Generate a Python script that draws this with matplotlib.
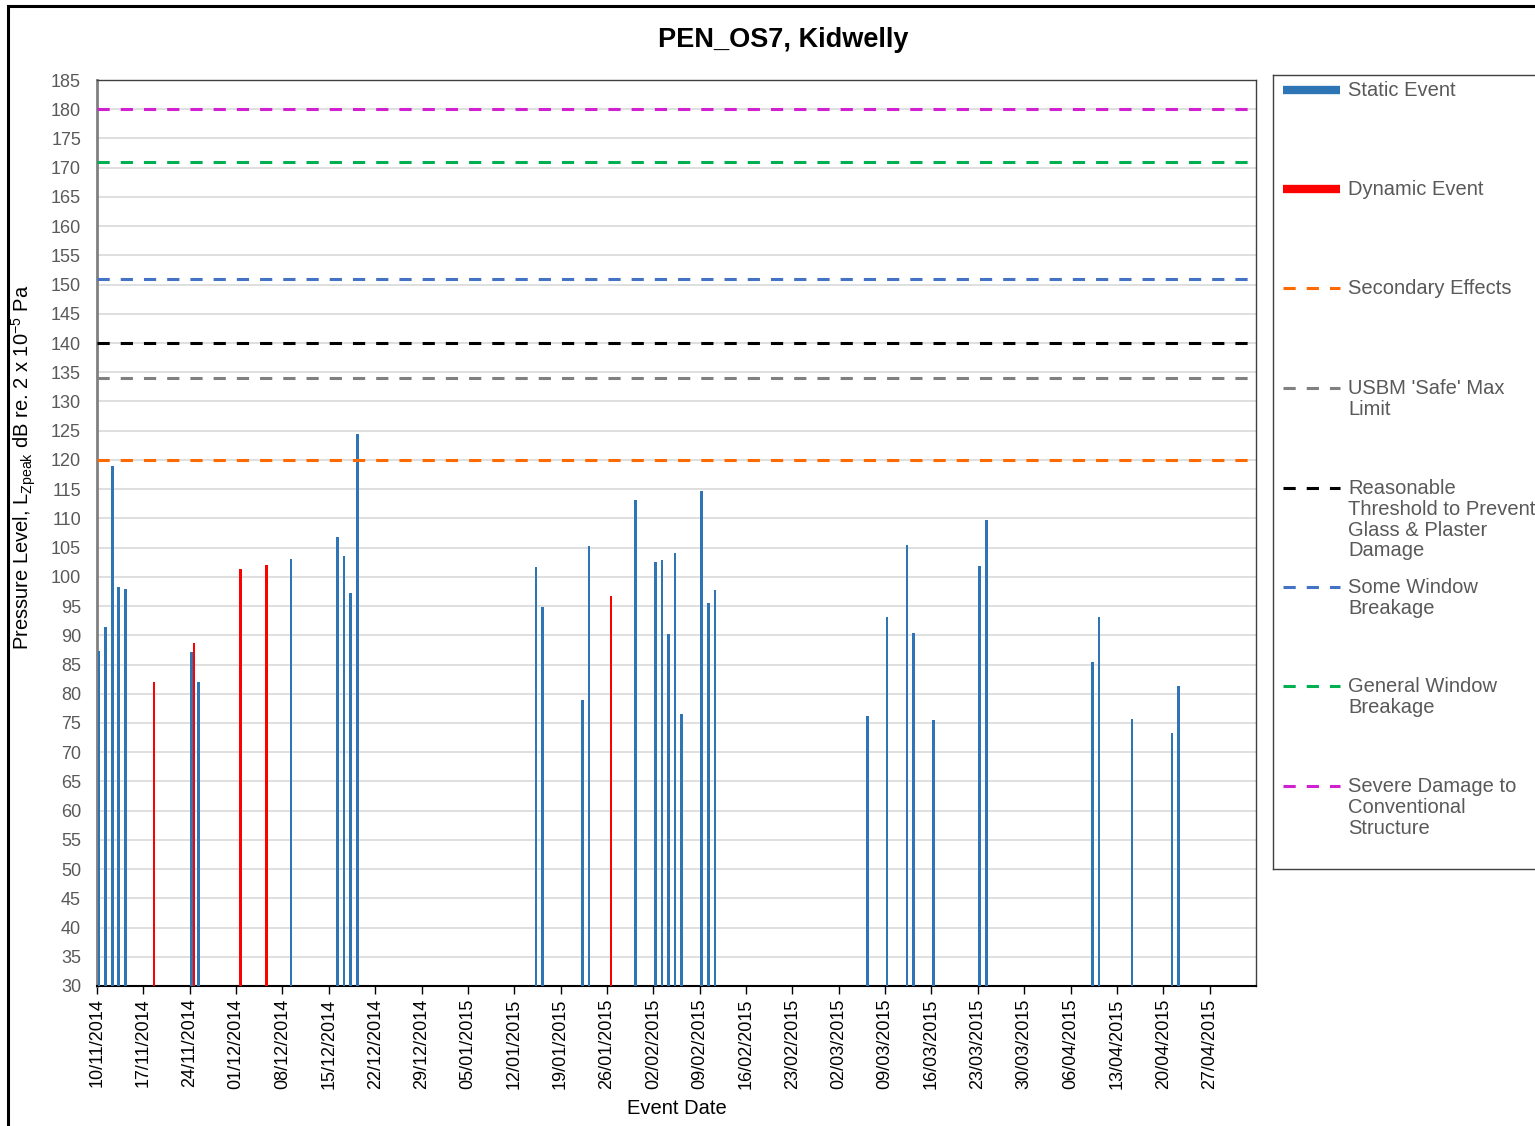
import matplotlib
matplotlib.use("Agg")
import matplotlib.pyplot as plt
import matplotlib.patches as patches
import matplotlib.dates as mdates
import numpy as np
import datetime as dt

plt.rcParams['font.family'] = ['Liberation Sans', 'DejaVu Sans']

# event data
static_dates = ["10/11/2014", "11/11/2014", "12/11/2014", "13/11/2014", "14/11/2014",
                "24/11/2014", "25/11/2014", "09/12/2014", "16/12/2014", "17/12/2014",
                "18/12/2014", "19/12/2014", "15/01/2015", "16/01/2015", "22/01/2015",
                "23/01/2015", "30/01/2015", "02/02/2015", "03/02/2015", "04/02/2015",
                "05/02/2015", "06/02/2015", "09/02/2015", "10/02/2015", "11/02/2015",
                "06/03/2015", "09/03/2015", "12/03/2015", "13/03/2015", "16/03/2015",
                "23/03/2015", "24/03/2015", "09/04/2015", "10/04/2015", "15/04/2015",
                "21/04/2015", "22/04/2015"]
static_levels = [87.3, 91.4, 119.0, 98.3, 98.0,
                 87.1, 82.0, 103.1, 106.8, 103.5,
                 97.2, 124.4, 101.7, 94.8, 78.9,
                 105.2, 113.1, 102.5, 102.9, 90.2,
                 104.0, 76.5, 114.7, 95.5, 97.7,
                 76.2, 93.1, 105.4, 90.4, 75.5,
                 101.8, 109.8, 85.4, 93.1, 75.7,
                 73.2, 81.4]

dynamic_dates = ["18/11/2014", "24/11/2014", "01/12/2014", "05/12/2014", "26/01/2015"]
dynamic_levels = [82.0, 88.6, 101.4, 102.1, 96.7]

# threshold lines
thr_labels = ["Secondary Effects", "USBM 'Safe' Max\nLimit",
              "Reasonable\nThreshold to Prevent\nGlass & Plaster\nDamage",
              "Some Window\nBreakage", "General Window\nBreakage",
              "Severe Damage to\nConventional\nStructure"]
thr_values = [120, 134, 140, 151, 171, 180]
thr_colors = ['#FF6A00', '#808080', '#000000', '#4472C4', '#00B050', '#D020D0']

W, H = 1535, 1126
fig = plt.figure(figsize=(W / 100, H / 100), dpi=100)
ax = fig.add_axes([97 / W, 1 - 986 / H, (1256 - 97) / W, (986 - 80) / H])

def to_dt(s):
    return dt.datetime.strptime(s, "%d/%m/%Y")

sd = [to_dt(s) + dt.timedelta(hours=7) for s in static_dates]
dd = [to_dt(s) + dt.timedelta(hours=15) for s in dynamic_dates]

base = 30
ax.bar(sd, np.array(static_levels) - base, bottom=base, width=0.4,
       color='#2E75B6', zorder=3)
ax.bar(dd, np.array(dynamic_levels) - base, bottom=base, width=0.4,
       color='#FF0000', zorder=3)

dash = (0, (4, 3.6))
for v, c in zip(thr_values, thr_colors):
    ax.axhline(v, color=c, lw=2.2, linestyle=dash, zorder=4)

start = dt.datetime(2014, 11, 10)
ax.set_xlim(start, start + dt.timedelta(days=175))
ax.set_ylim(30, 185)
ax.set_yticks(np.arange(30, 186, 5))
ax.yaxis.grid(True, color='#D9D9D9', lw=1.2, zorder=0)
ax.set_axisbelow(True)

ticks = [start + dt.timedelta(days=7 * i) for i in range(25)]
ax.set_xticks(ticks)
ax.xaxis.set_major_formatter(mdates.DateFormatter('%d/%m/%Y'))
ax.tick_params(axis='x', rotation=90, labelsize=13, length=6, width=1,
               color='black', labelcolor='black', pad=3)
ax.tick_params(axis='y', length=0, labelsize=13, labelcolor='#595959', pad=11.5)

for side in ['top', 'right']:
    ax.spines[side].set_color('#404040')
    ax.spines[side].set_linewidth(1)
ax.spines['left'].set_color('#808080')
ax.spines['left'].set_linewidth(2)
ax.spines['bottom'].set_color('black')
ax.spines['bottom'].set_linewidth(1.5)

ax.set_xlabel('Event Date', fontsize=14.5, va='center')
ax.xaxis.set_label_coords(0.5, (986 - 1108) / 906)
ax.set_ylabel(r'Pressure Level, L$_{\mathregular{Zpeak}}$ dB re. 2 x 10$^{\mathregular{-5}}$ Pa',
              fontsize=14.5, va='center')
ax.yaxis.set_label_coords((24 - 97) / 1159, (986 - 467) / 906)
fig.text(783 / W, 1 - 40 / H, 'PEN_OS7, Kidwelly', fontsize=19.5, fontweight='bold',
         ha='center', va='center')

# outer chart frame
fig.patches.append(patches.Rectangle((8 / W, -0.1), 1.2, 1.1 - 6 / H, transform=fig.transFigure,
                                     fill=False, edgecolor='black', lw=2.2))

# legend drawn in its own pixel-coordinate axes
lax = fig.add_axes([1273 / W, 1 - 869 / H, 300 / W, (869 - 75) / H])
lax.set_xlim(1273, 1573)
lax.set_ylim(869, 75)
lax.set_xticks([])
lax.set_yticks([])
for s in lax.spines.values():
    s.set_color('#404040')
    s.set_linewidth(1)

entries = [("Static Event", '#2E75B6', 'bar'), ("Dynamic Event", '#FF0000', 'bar')]
entries += [(l, c, 'line') for l, c in zip(thr_labels, thr_colors)]
slots = [90, 189, 288, 388, 488, 587, 686, 786]
for (label, color, kind), y in zip(entries, slots):
    if kind == 'bar':
        lax.plot([1283, 1340], [y, y], color=color, lw=6, solid_capstyle='butt')
    else:
        lax.plot([1283, 1340], [y, y], color=color, lw=2.2, linestyle=dash)
    lax.text(1348, y - 9, label, fontsize=14.5, color='#595959', va='top', ha='left',
             linespacing=1.12)

fig.savefig('out.png', dpi=100)
